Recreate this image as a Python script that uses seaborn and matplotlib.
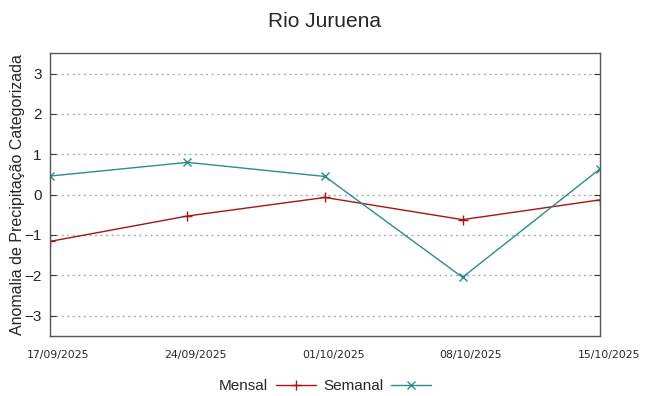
import matplotlib
matplotlib.use('Agg')
import matplotlib.pyplot as plt
import matplotlib.transforms as mtransforms
import seaborn as sns
import pandas as pd

# data
datas = ['17/09/2025', '24/09/2025', '01/10/2025', '08/10/2025', '15/10/2025']
mensal = [-1.16, -0.53, -0.07, -0.62, -0.13]
semanal = [0.46, 0.80, 0.45, -2.05, 0.64]

df = pd.DataFrame({'pos': range(len(datas)), 'Mensal': mensal, 'Semanal': semanal})

sns.set_style('white')
plt.rcParams['font.family'] = ['Liberation Sans', 'DejaVu Sans']

fig = plt.figure(figsize=(6.48, 3.96), dpi=100)
ax = fig.add_axes([0.077, 0.152, 0.849, 0.713])

red = '#a51515'
teal = '#2a8c8c'
sns.lineplot(x='pos', y='Mensal', data=df, ax=ax, color=red, lw=1,
             marker='+', markersize=7, mew=1, markeredgecolor=red, label='Mensal')
sns.lineplot(x='pos', y='Semanal', data=df, ax=ax, color=teal, lw=1,
             marker='x', markersize=5.5, mew=1, markeredgecolor=teal, label='Semanal')

ax.set_xlim(0, len(datas) - 1)
ax.set_ylim(-3.5, 3.5)
ax.set_yticks([-3, -2, -1, 0, 1, 2, 3])
ax.set_xticks(range(len(datas)))
ax.set_xticklabels(datas, family='Liberation Sans Narrow', fontsize=7.8)
ax.tick_params(axis='x', length=0, pad=10)
ax.tick_params(axis='y', direction='in', length=4, left=True, right=True,
               labelsize=11, color='#333333', pad=6)
# gnuplot-like shift of the date labels to the right
offset = mtransforms.ScaledTranslation(8.5 / 100, 0, fig.dpi_scale_trans)
for lbl in ax.get_xticklabels():
    lbl.set_transform(lbl.get_transform() + offset)
ax.yaxis.grid(True, linestyle=(0, (1.5, 2.5)), color='#aaaaaa', lw=1)

for s in ax.spines.values():
    s.set_color('#555555')
    s.set_linewidth(1)

ax.set_xlabel('')
ax.set_ylabel('Anomalia de Precipitação Categorizada', fontsize=11.5)
ax.yaxis.set_label_coords(-0.046, 0.5)
fig.suptitle('Rio Juruena', fontsize=15, y=0.97)

ax.legend(loc='upper center', bbox_to_anchor=(0.5, -0.105), ncol=2, frameon=False,
          markerfirst=False, fontsize=11, handlelength=2.6, columnspacing=0.5,
          handletextpad=0.5)

plt.savefig('out.png')
